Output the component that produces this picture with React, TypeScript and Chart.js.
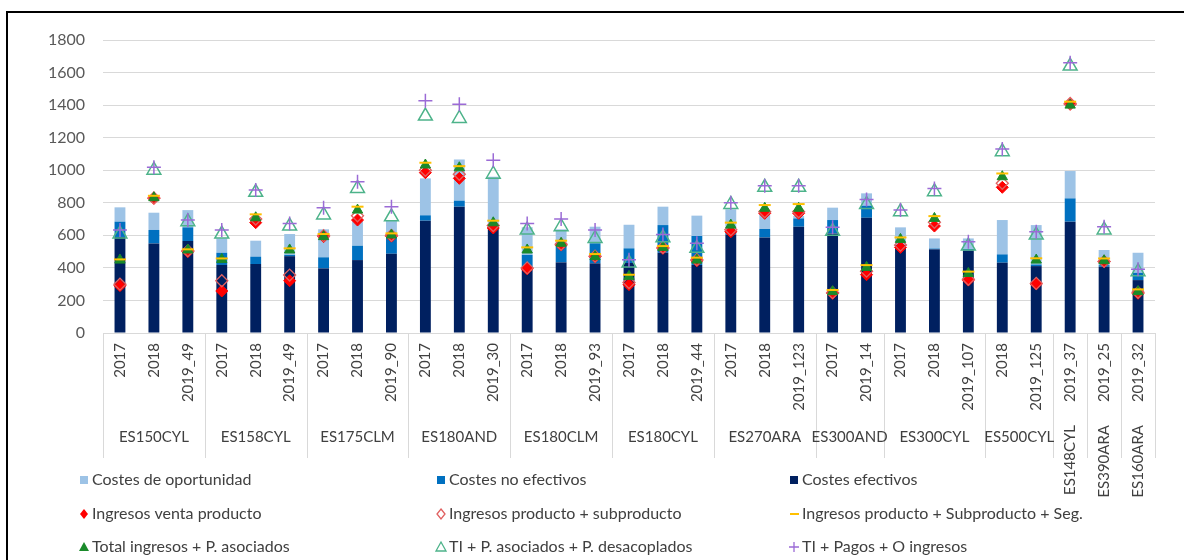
import React, { useEffect, useRef } from 'react';
import { Chart, registerables } from 'chart.js';

Chart.register(...registerables);

// ---------- DATA ----------
const years = [
  '2017', '2018', '2019_49',
  '2017', '2018', '2019_49',
  '2017', '2018', '2019_90',
  '2017', '2018', '2019_30',
  '2017', '2018', '2019_93',
  '2017', '2018', '2019_44',
  '2017', '2018', '2019_123',
  '2017', '2019_14',
  '2017', '2018', '2019_107',
  '2018', '2019_125',
  '2019_37',
  '2019_25',
  '2019_32',
];

const groupNames = [
  'ES150CYL', 'ES158CYL', 'ES175CLM', 'ES180AND', 'ES180CLM', 'ES180CYL',
  'ES270ARA', 'ES300AND', 'ES300CYL', 'ES500CYL', 'ES148CYL', 'ES390ARA', 'ES160ARA',
];
const groupSizes = [3, 3, 3, 3, 3, 3, 3, 2, 3, 2, 1, 1, 1];

const costesEfectivos = [
  590, 550, 565, 418, 424, 472, 397, 448, 487, 690, 776, 650, 390, 434, 428, 430,
  493, 418, 605, 587, 653, 612, 708, 530, 514, 506, 432, 411, 684, 407, 325,
];
const costesNoEfectivos = [
  94, 83, 84, 75, 45, 8, 68, 88, 110, 33, 37, 15, 90, 96, 123, 90,
  170, 178, 15, 52, 51, 82, 74, 10, 5, 10, 51, 10, 143, 10, 45,
];
const costesOportunidad = [
  88, 106, 106, 88, 98, 128, 172, 154, 93, 227, 253, 295, 170, 107, 102, 145,
  113, 125, 140, 101, 16, 76, 76, 109, 62, 65, 211, 242, 168, 93, 123,
];

const ingresosVentaProducto = [
  291, 827, 500, 258, 678, 321, 592, 694, 595, 985, 950, 645, 394, 540, 469, 297,
  520, 444, 622, 735, 735, 244, 358, 526, 657, 325, 895, 301, 1405, 438, 244,
];
const ingresosProductoSubproducto = [
  300, 830, 505, 321, 700, 356, 598, 720, 600, 1000, 975, 660, 400, 545, 472, 310,
  525, 450, 635, 745, 745, 248, 380, 540, 680, 330, 920, 305, 1410, 440, 250,
];
const ingresosProductoSubproductoSeg = [
  452, 843, 514, 458, 729, 520, 608, 776, 612, 1046, 1025, 690, 526, 567, 485, 358,
  534, 463, 678, 786, 792, 264, 417, 587, 718, 377, 980, 459, 1421, 458, 268,
];
const totalIngresosAsociados = [
  448, 831, 510, 452, 708, 510, 592, 755, 602, 1032, 1015, 677, 510, 551, 469, 348,
  526, 448, 663, 766, 766, 254, 403, 575, 704, 366, 960, 448, 1400, 444, 254,
];
const tiAsociadosDesacoplados = [
  608, 1000, 684, 608, 864, 657, 725, 888, 714, 1333, 1318, 976, 632, 653, 581, 430,
  585, 520, 790, 895, 895, 625, 790, 745, 868, 534, 1114, 602, 1640, 633, 377,
];
const tiPagosOIngresos = [
  632, 1018, 694, 632, 878, 673, 770, 929, 776, 1427, 1406, 1062, 673, 700, 632, 450,
  605, 551, 800, 905, 905, 650, 820, 755, 888, 561, 1130, 622, 1660, 653, 391,
];

const yTicksMax = 1800;
const yTicksStep = 200;

// ---------- STYLE ----------
const FONT = 'Lato, "Liberation Sans", sans-serif';
const C_EFECTIVOS = '#002060';
const C_NOEFECTIVOS = '#0070c0';
const C_OPORTUNIDAD = '#9dc3e6';
const C_RED = '#ff0000';
const C_RED_OPEN = '#e06060';
const C_YELLOW = '#ffc000';
const C_GREEN = '#1a8a2a';
const C_GREEN_OPEN = '#4db38a';
const C_PURPLE = '#9b6bd6';
const TEXT = '#404040';

type LegendKind = 'box' | 'diamond' | 'diamondOpen' | 'dash' | 'triangle' | 'triangleOpen' | 'cross';

const legendItems: { label: string; kind: LegendKind; color: string }[] = [
  { label: 'Costes de oportunidad', kind: 'box', color: C_OPORTUNIDAD },
  { label: 'Costes no efectivos', kind: 'box', color: C_NOEFECTIVOS },
  { label: 'Costes efectivos', kind: 'box', color: C_EFECTIVOS },
  { label: 'Ingresos venta producto', kind: 'diamond', color: C_RED },
  { label: 'Ingresos producto + subproducto', kind: 'diamondOpen', color: C_RED_OPEN },
  { label: 'Ingresos producto + Subproducto + Seg.', kind: 'dash', color: C_YELLOW },
  { label: 'Total ingresos + P. asociados', kind: 'triangle', color: C_GREEN },
  { label: 'TI + P. asociados + P. desacoplados', kind: 'triangleOpen', color: C_GREEN_OPEN },
  { label: 'TI + Pagos + O ingresos', kind: 'cross', color: C_PURPLE },
];

const multiLevelAxis = {
  id: 'multiLevelAxis',
  afterDraw(chart: any) {
    const { ctx, chartArea } = chart;
    const x = chart.scales.x;
    const base = chartArea.bottom;
    const half = (x.getPixelForValue(1) - x.getPixelForValue(0)) / 2;
    ctx.save();
    ctx.fillStyle = TEXT;
    ctx.font = `15px ${FONT}`;
    years.forEach((lab, i) => {
      const px = x.getPixelForValue(i);
      ctx.save();
      ctx.translate(px, base + 10);
      ctx.rotate(-Math.PI / 2);
      ctx.textAlign = 'right';
      ctx.textBaseline = 'middle';
      ctx.fillText(lab, 0, 0);
      ctx.restore();
    });
    ctx.strokeStyle = '#d9d9d9';
    ctx.lineWidth = 1;
    const sep = (px: number) => {
      const xx = Math.round(px) + 0.5;
      ctx.beginPath();
      ctx.moveTo(xx, base);
      ctx.lineTo(xx, base + 125);
      ctx.stroke();
    };
    sep(x.getPixelForValue(0) - half);
    let idx = 0;
    groupNames.forEach((g, gi) => {
      const n = groupSizes[gi];
      const start = x.getPixelForValue(idx) - half;
      const end = x.getPixelForValue(idx + n - 1) + half;
      sep(end);
      const mid = (start + end) / 2;
      if (n === 1) {
        ctx.save();
        ctx.translate(mid, base + 92);
        ctx.rotate(-Math.PI / 2);
        ctx.textAlign = 'right';
        ctx.textBaseline = 'middle';
        ctx.fillText(g, 0, 0);
        ctx.restore();
      } else {
        ctx.textAlign = 'center';
        ctx.textBaseline = 'middle';
        ctx.fillText(g, mid, base + 104);
      }
      idx += n;
    });
    ctx.restore();
  },
};

function drawLegendMarker(ctx: CanvasRenderingContext2D, kind: LegendKind, color: string, x: number, y: number) {
  ctx.save();
  ctx.fillStyle = color;
  ctx.strokeStyle = color;
  ctx.lineWidth = 1.3;
  const cx = x + 4;
  switch (kind) {
    case 'box':
      ctx.fillRect(x, y - 4, 8, 8);
      break;
    case 'diamond':
    case 'diamondOpen':
      ctx.beginPath();
      ctx.moveTo(cx, y - 5);
      ctx.lineTo(cx + 4, y);
      ctx.lineTo(cx, y + 5);
      ctx.lineTo(cx - 4, y);
      ctx.closePath();
      if (kind === 'diamond') ctx.fill(); else ctx.stroke();
      break;
    case 'dash':
      ctx.lineWidth = 2;
      ctx.beginPath();
      ctx.moveTo(x, y);
      ctx.lineTo(x + 9, y);
      ctx.stroke();
      break;
    case 'triangle':
    case 'triangleOpen':
      ctx.beginPath();
      ctx.moveTo(cx, y - 5);
      ctx.lineTo(cx + 5, y + 4);
      ctx.lineTo(cx - 5, y + 4);
      ctx.closePath();
      if (kind === 'triangle') ctx.fill(); else ctx.stroke();
      break;
    case 'cross':
      ctx.beginPath();
      ctx.moveTo(cx - 5, y);
      ctx.lineTo(cx + 5, y);
      ctx.moveTo(cx, y - 5);
      ctx.lineTo(cx, y + 5);
      ctx.stroke();
      break;
  }
  ctx.restore();
}

const customLegend = {
  id: 'customLegend',
  afterDraw(chart: any) {
    const { ctx } = chart;
    const cols = [80, 437, 790];
    const rows = [480, 514, 547];
    ctx.save();
    ctx.font = `16px ${FONT}`;
    ctx.fillStyle = TEXT;
    ctx.textBaseline = 'middle';
    ctx.textAlign = 'left';
    legendItems.forEach((it, i) => {
      const cx = cols[i % 3];
      const cy = rows[Math.floor(i / 3)];
      drawLegendMarker(ctx, it.kind, it.color, cx, cy);
      ctx.fillStyle = TEXT;
      ctx.fillText(it.label, cx + 12, cy);
    });
    ctx.restore();
  },
};

export default function App() {
  const ref = useRef<HTMLCanvasElement>(null);

  useEffect(() => {
    document.body.style.margin = '0';
    const canvas = ref.current;
    if (!canvas) return;

    const pointDs = (label: string, data: number[], style: string, extra: any) => ({
      type: 'line' as const,
      label,
      data,
      showLine: false,
      pointStyle: style,
      stack: label,
      order: 0,
      ...extra,
    });

    const chart = new Chart(canvas, {
      type: 'bar',
      data: {
        labels: years,
        datasets: [
          pointDs('TI + Pagos + O ingresos', tiPagosOIngresos, 'cross', {
            borderColor: C_PURPLE, backgroundColor: C_PURPLE, pointRadius: 7, borderWidth: 1.5,
          }),
          pointDs('TI + P. asociados + P. desacoplados', tiAsociadosDesacoplados, 'triangle', {
            borderColor: C_GREEN_OPEN, backgroundColor: 'rgba(0,0,0,0)', pointRadius: 8, borderWidth: 1.5,
          }),
          pointDs('Ingresos producto + Subproducto + Seg.', ingresosProductoSubproductoSeg, 'line', {
            borderColor: C_YELLOW, backgroundColor: C_YELLOW, pointRadius: 6, borderWidth: 2,
          }),
          pointDs('Total ingresos + P. asociados', totalIngresosAsociados, 'triangle', {
            borderColor: C_GREEN, backgroundColor: C_GREEN, pointRadius: 6, borderWidth: 1,
          }),
          pointDs('Ingresos producto + subproducto', ingresosProductoSubproducto, 'rectRot', {
            borderColor: C_RED_OPEN, backgroundColor: 'rgba(0,0,0,0)', pointRadius: 6, borderWidth: 1.3,
          }),
          pointDs('Ingresos venta producto', ingresosVentaProducto, 'rectRot', {
            borderColor: C_RED, backgroundColor: C_RED, pointRadius: 6, borderWidth: 1,
          }),
          {
            label: 'Costes efectivos', data: costesEfectivos, backgroundColor: C_EFECTIVOS,
            stack: 'costes', order: 10,
          },
          {
            label: 'Costes no efectivos', data: costesNoEfectivos, backgroundColor: C_NOEFECTIVOS,
            stack: 'costes', order: 10,
          },
          {
            label: 'Costes de oportunidad', data: costesOportunidad, backgroundColor: C_OPORTUNIDAD,
            stack: 'costes', order: 10,
          },
        ] as any,
      },
      options: {
        responsive: false,
        animation: false,
        devicePixelRatio: 1,
        layout: { padding: { top: 40, right: 29, bottom: 0, left: 0 } },
        plugins: {
          legend: { display: false },
          tooltip: { enabled: false },
        },
        datasets: {
          bar: { barPercentage: 0.32, categoryPercentage: 1 },
        },
        scales: {
          x: {
            stacked: true,
            grid: { display: false },
            border: { display: false },
            ticks: { display: false },
            afterFit: (s: any) => { s.height = 227; },
          },
          y: {
            stacked: true,
            min: 0,
            max: yTicksMax,
            ticks: {
              stepSize: yTicksStep,
              padding: 18,
              color: '#595959',
              font: { family: FONT, size: 16 },
              callback: (v: any) => String(v),
            },
            grid: { color: '#d9d9d9', drawTicks: false },
            border: { display: false },
            afterFit: (s: any) => { s.width = 103; },
          },
        },
      } as any,
      plugins: [multiLevelAxis, customLegend],
    });

    return () => chart.destroy();
  }, []);

  return (
    <div style={{ position: 'relative', width: 1184, height: 560, overflow: 'hidden', background: '#fff' }}>
      <canvas ref={ref} width={1184} height={560} style={{ position: 'absolute', left: 0, top: 0 }} />
      <div
        style={{
          position: 'absolute', left: 6, top: 11, width: 1300, height: 700,
          borderLeft: '2px solid #000', borderTop: '2px solid #000', pointerEvents: 'none',
        }}
      />
    </div>
  );
}
